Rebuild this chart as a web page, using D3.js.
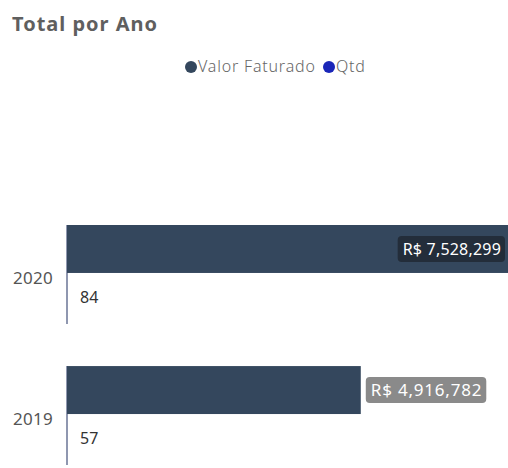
<!DOCTYPE html>
<html>
<head>
<meta charset="utf-8">
<script src="https://d3js.org/d3.v7.min.js"></script>
<style>
  body { margin: 0; background: #fff; }
  text { font-family: "Segoe UI", "Noto Sans", sans-serif; }
</style>
</head>
<body>
<svg id="chart" width="508" height="468"></svg>
<script>
// data
var anos = ["2020", "2019"];
var valorFaturado = [7528299, 4916782];
var qtd = [84, 57];
var series = ["Valor Faturado", "Qtd"];
var cores = ["#34475d", "#1a26b8"];

var svg = d3.select("#chart");

// title
svg.append("text")
  .attr("x", 12).attr("y", 31)
  .attr("fill", "#5f5f5f")
  .attr("font-size", 20)
  .attr("font-weight", "bold")
  .attr("letter-spacing", 1)
  .text("Total por Ano");

// legend
var legX = [191, 329];
series.forEach(function(s, i) {
  svg.append("circle")
    .attr("cx", legX[i]).attr("cy", 67).attr("r", 6)
    .attr("fill", cores[i]);
  svg.append("text")
    .attr("x", legX[i] + 7).attr("y", 72)
    .attr("fill", "#666")
    .attr("font-size", 16)
    .attr("font-weight", 300)
    .attr("letter-spacing", 0.8)
    .text(s);
});

// scales
var x = d3.scaleLinear()
  .domain([0, 8000000])
  .range([67, 545]);

var y = d3.scaleBand()
  .domain(anos)
  .range([225, 462])
  .paddingInner(0.32)
  .paddingOuter(0);

var sub = d3.scaleBand()
  .domain(series)
  .range([0, y.bandwidth()]);

var rows = anos.map(function(a, i) {
  return { ano: a, valor: valorFaturado[i], qtd: qtd[i] };
});

// axis line (category axis, left)
rows.forEach(function(d) {
  svg.append("line")
    .attr("x1", 67).attr("x2", 67)
    .attr("y1", y(d.ano)).attr("y2", y(d.ano) + y.bandwidth() + 3)
    .attr("stroke", "#8f97b0")
    .attr("stroke-width", 2);
});

// year labels
svg.selectAll(".ano")
  .data(rows).enter()
  .append("text")
  .attr("class", "ano")
  .attr("x", 13)
  .attr("y", function(d) { return y(d.ano) + y.bandwidth() / 2 + 11; })
  .attr("fill", "#555")
  .attr("font-size", 17)
  .attr("letter-spacing", 0.3)
  .text(function(d) { return d.ano; });

// valor bars
svg.selectAll(".valor")
  .data(rows).enter()
  .append("rect")
  .attr("class", "valor")
  .attr("x", x(0))
  .attr("y", function(d) { return y(d.ano) + sub("Valor Faturado"); })
  .attr("width", function(d) { return x(d.valor) - x(0); })
  .attr("height", sub.bandwidth())
  .attr("fill", cores[0]);

// qtd bars (tiny on the shared scale)
svg.selectAll(".qtd")
  .data(rows).enter()
  .append("rect")
  .attr("class", "qtd")
  .attr("x", x(0))
  .attr("y", function(d) { return y(d.ano) + sub("Qtd"); })
  .attr("width", function(d) { return x(d.qtd) - x(0); })
  .attr("height", sub.bandwidth())
  .attr("fill", cores[1]);

// qtd labels
svg.selectAll(".qtdLabel")
  .data(rows).enter()
  .append("text")
  .attr("x", 80)
  .attr("y", function(d) { return y(d.ano) + sub("Qtd") + sub.bandwidth() / 2 + 6; })
  .attr("fill", "#333")
  .attr("font-size", 16)
  .text(function(d) { return d.qtd; });

// valor labels
var fmt = d3.format(",");
var W = 508;
rows.forEach(function(d) {
  var txt = "R$ " + fmt(d.valor);
  var cy = y(d.ano) + sub("Valor Faturado") + sub.bandwidth() / 2;
  var inside = x(d.valor) > W - 40;
  var g = svg.append("g");
  var t = g.append("text")
    .attr("y", cy + 6)
    .attr("font-size", inside ? 16 : 17)
    .attr("letter-spacing", inside ? 0.2 : 0.8)
    .attr("fill", "#fff")
    .text(txt);
  var tw = t.node().getBBox().width;
  var boxW = tw + 9;
  var bx = inside ? Math.min(x(d.valor), W) - 3 - boxW : x(d.valor) + 5;
  g.insert("rect", "text")
    .attr("x", bx).attr("y", cy - 13)
    .attr("width", boxW).attr("height", 26)
    .attr("rx", 4)
    .attr("fill", inside ? "#232d3a" : "#8a8a8a");
  t.attr("x", bx + 5);
});
</script>
</body>
</html>
